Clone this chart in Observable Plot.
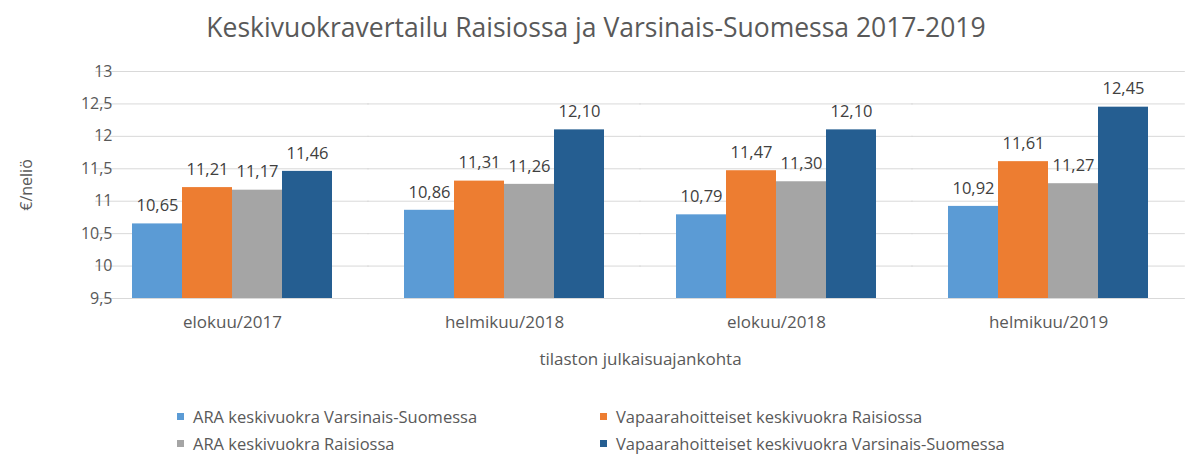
<!DOCTYPE html>
<html>
<head>
<meta charset="utf-8">
<script src="https://cdn.jsdelivr.net/npm/d3@7"></script>
<script src="https://cdn.jsdelivr.net/npm/@observablehq/plot@0.6"></script>
<style>
  html, body { margin: 0; padding: 0; background: #fff; }
  #wrap { width: 1192px; height: 460px; position: relative; font-family: "Open Sans", sans-serif; color: #595959; }
  #title { height: 50px; line-height: 54px; text-align: center; font-size: 26.5px; color: #595959; white-space: nowrap; }
  #legend { display: grid; grid-template-columns: 423px 423px; padding-left: 177px; row-gap: 9px; padding-top: 27px; font-size: 16.5px; color: #595959; }
  .item { display: flex; align-items: center; height: 18px; white-space: nowrap; }
  .sw { width: 7px; height: 7px; margin-right: 9px; display: inline-block; }
</style>
</head>
<body>
<div id="wrap">
  <div id="title">Keskivuokravertailu Raisiossa ja Varsinais-Suomessa 2017-2019</div>
  <div id="chart"></div>
  <div id="legend"></div>
</div>
<script>
const periods = ["elokuu/2017", "helmikuu/2018", "elokuu/2018", "helmikuu/2019"];
const seriesNames = [
  "ARA keskivuokra Varsinais-Suomessa",
  "Vapaarahoitteiset keskivuokra Raisiossa",
  "ARA keskivuokra Raisiossa",
  "Vapaarahoitteiset keskivuokra Varsinais-Suomessa"
];
const araVS = [10.65, 10.86, 10.79, 10.92];
const vapaaRaisio = [11.21, 11.31, 11.47, 11.61];
const araRaisio = [11.17, 11.26, 11.30, 11.27];
const vapaaVS = [11.46, 12.10, 12.10, 12.45];
const yTicks = [9.5, 10, 10.5, 11, 11.5, 12, 12.5, 13];
const colors = ["#5b9bd5", "#ed7d31", "#a5a5a5", "#255e91"];

const seriesValues = [araVS, vapaaRaisio, araRaisio, vapaaVS];
const rows = periods.flatMap((p, i) =>
  seriesValues.map((vals, j) => ({period: p, series: seriesNames[j], value: vals[i]}))
);
const fmtTick = d => String(d).replace(".", ",");
const fmtVal = d => d3.format(".2f")(d).replace(".", ",");

const W = 1192, mL = 95, mR = 7;
const padInner = 0.266, padOuter = 0.133;
const step = (W - mL - mR) / (periods.length - padInner + 2 * padOuter);
const ext = padOuter * step + 0.6; // extend per-facet grid lines across the gaps

const chart = Plot.plot({
  width: W,
  height: 330,
  marginLeft: mL,
  marginRight: mR,
  marginTop: 21,
  marginBottom: 82,
  style: {fontFamily: "Open Sans, sans-serif", fontSize: "16px", color: "#595959", background: "white", overflow: "visible"},
  fx: {domain: periods, paddingInner: padInner, paddingOuter: padOuter},
  x: {domain: seriesNames, padding: 0, axis: null},
  y: {domain: [yTicks[0], yTicks[yTicks.length - 1]]},
  color: {domain: seriesNames, range: colors},
  marks: [
    Plot.ruleY(yTicks, {stroke: "#d9d9d9", strokeWidth: 1, insetLeft: -ext, insetRight: -ext}),
    Plot.barY(rows, {fx: "period", x: "series", y1: yTicks[0], y2: "value", fill: "series"}),
    Plot.text(rows, {fx: "period", x: "series", y: "value", text: d => fmtVal(d.value), dy: -18, fill: "#404040", fontSize: 16.5}),
    Plot.axisY({ticks: yTicks, tickFormat: fmtTick, tickSize: 0, tickPadding: 20, fontSize: 16, label: "€/neliö", labelAnchor: "center", labelOffset: 112, labelArrow: "none"}),
    Plot.axisFx({anchor: "bottom", tickSize: 0, tickPadding: 17, fontSize: 17, label: "tilaston julkaisuajankohta", labelAnchor: "center", labelOffset: 66, labelArrow: "none"})
  ]
});
document.getElementById("chart").appendChild(chart);

const legend = document.getElementById("legend");
seriesNames.forEach((name, i) => {
  const item = document.createElement("div");
  item.className = "item";
  const sw = document.createElement("span");
  sw.className = "sw";
  sw.style.background = colors[i];
  item.appendChild(sw);
  item.appendChild(document.createTextNode(name));
  legend.appendChild(item);
});
</script>
</body>
</html>
